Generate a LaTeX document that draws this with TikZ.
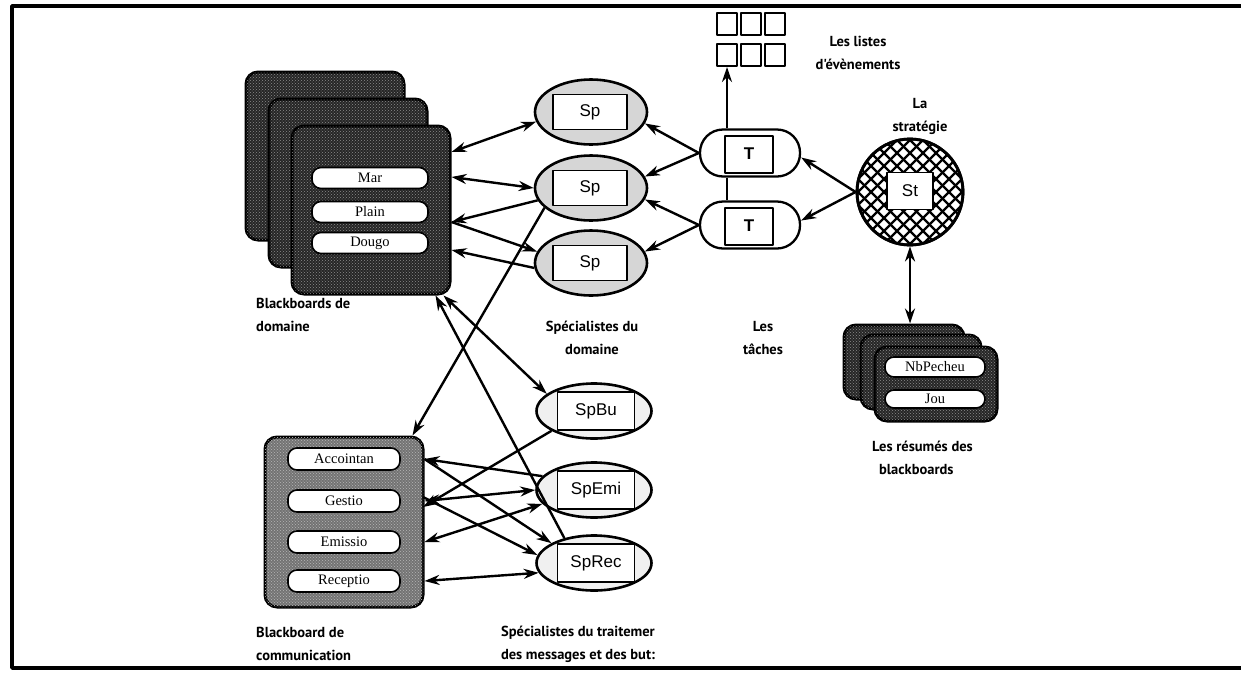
\documentclass[tikz,border=0pt]{standalone}
\usepackage{fontspec}
\setmainfont{Liberation Serif}
\setsansfont{Liberation Sans}
\newfontfamily\labfont{PT Sans}
\usetikzlibrary{shapes.geometric,arrows.meta,patterns}
\tikzset{
  card/.style={draw,line width=3pt,rounded corners=12pt,fill=black!85,inner sep=0pt,
    postaction={pattern=crosshatch dots,pattern color=black!45}},
  slot/.style={draw,line width=1.6pt,fill=white,rounded corners=9pt,inner sep=0pt,
    font=\fontsize{14.5}{16}\selectfont},
  spec/.style={ellipse,draw,line width=2.6pt,fill=black!16,minimum width=112pt,minimum height=65pt},
  specb/.style={spec,fill=black!6,minimum width=115pt,minimum height=55pt},
  spbox/.style={draw,line width=1.5pt,fill=white,minimum width=74pt,minimum height=35pt,
    font=\sffamily\fontsize{17}{19}\selectfont},
  tache/.style={draw,line width=2.3pt,fill=white,rounded corners=23pt,minimum width=100pt,minimum height=47pt},
  tbox/.style={draw,line width=2pt,fill=white,minimum width=48pt,minimum height=37pt,
    font=\sffamily\bfseries\fontsize{17}{19}\selectfont},
  evbox/.style={draw,line width=2pt,minimum width=20pt,minimum height=22pt,inner sep=0pt},
  lab/.style={font=\labfont\bfseries\fontsize{14.5}{23}\selectfont,inner sep=0pt},
  conn/.style={line width=2.4pt}
}
\begin{document}
\begin{tikzpicture}[x=1pt,y=-1pt,>={Stealth[length=15pt,width=10pt]},line join=round]
\useasboundingbox (0,0) rectangle (1241,673);
% cadre
\draw[line width=3.5pt] (1241,6) -- (12,6) -- (12,668) -- (1241,668);

% blackboards de domaine
\node[card,minimum width=158pt,minimum height=168pt] (bbd1) at (325,156) {};
\node[card,minimum width=158pt,minimum height=168pt] (bbd2) at (348,183) {};
\node[card,minimum width=158pt,minimum height=168pt] (bbd3) at (371,210) {};
\foreach \n/\t/\y in {mar/Mar/178,plain/Plain/212,dougo/Dougo/243}
  \node[slot,minimum width=116pt,minimum height=21pt] (\n) at (370,\y) {\t};
\node[lab,anchor=west,align=left] (lbbd) at (256,315) {Blackboards de\\domaine};

% specialistes du domaine
\foreach \i/\y in {1/112,2/188,3/263}{
  \node[spec] (sp\i) at (591,\y) {};
  \node[spbox] (sp\i b) at (590,\y) {Sp};
}
\node[lab,align=center] (lspd) at (592,338) {Spécialistes du\\domaine};

% taches
\node[tache] (t1) at (750,153) {};
\node[tbox] (t1b) at (749,154) {T};
\node[tache] (t2) at (750,225) {};
\node[tbox] (t2b) at (749,226) {T};
\node[lab,align=center] (ltac) at (763,338) {Les\\tâches};

% listes d'evenements
\foreach \r in {0,1}
  \foreach \c in {0,1,2}
    \node[evbox] (ev\r\c) at (727+24*\c,24+31*\r) {};
\node[lab,align=center] (llis) at (858,53) {Les listes\\d'évènements};

% strategie
\node[lab,align=center] (lstr) at (920,116) {La\\stratégie};
\node[circle,draw,line width=2.8pt,minimum size=106pt,fill=white] (st) at (910,192) {};
\begin{scope}
  \clip (st.center) circle (52);
  \foreach \k in {-6,...,6}{
    \draw[line width=2.3pt] (910+13*\k-60,132) -- (910+13*\k+60,252);
    \draw[line width=2.3pt] (910+13*\k+60,132) -- (910+13*\k-60,252);
  }
\end{scope}
\draw[line width=2.8pt] (st.center) circle (53);
\node[spbox,minimum width=46pt,minimum height=37pt] (stb) at (910,191) {St};

% resumes des blackboards
\node[card,minimum width=120pt,minimum height=74pt] (sbb1) at (904,362) {};
\node[card,minimum width=120pt,minimum height=74pt] (sbb2) at (921,372) {};
\node[card,minimum width=122pt,minimum height=74pt] (sbb3) at (936,384) {};
\node[slot,minimum width=100pt,minimum height=20pt] (nbp) at (935,367) {NbPecheu};
\node[slot,minimum width=100pt,minimum height=18pt] (jou) at (935,399) {Jou};
\node[lab,anchor=west,align=left] (lres) at (872,458) {Les résumés des\\\hspace*{7pt}blackboards};

% blackboard de communication
\node[card,fill=black!55,postaction={pattern=crosshatch dots,pattern color=white!70!black},
  minimum width=158pt,minimum height=170pt] (cbb) at (344,522) {};
\foreach \n/\t/\y in {acc/Accointan/459,ges/Gestio/501,emi/Emissio/542,rec/Receptio/581}
  \node[slot,minimum width=112pt,minimum height=22pt] (\n) at (344,\y) {\t};
\node[lab,anchor=west,align=left] (lbbc) at (256,644) {Blackboard de\\communication};

% specialistes des messages
\foreach \n/\t/\y in {spbu/SpBu/411,spemi/SpEmi/490,sprec/SpRec/563}{
  \node[specb] (\n) at (594,\y) {};
  \node[spbox,minimum width=77pt,minimum height=38pt] (\n b) at (596,\y) {\t};
}
\node[lab,align=center] (lspt) at (578,644) {Spécialistes du traitemer\\des messages et des but:};

\coordinate (cg2) at (423,497);
\coordinate (cg3) at (423,507);

% connexions domaine
\draw[conn,<->] ([yshift=58pt]bbd3.east) -- (sp1.190);
\draw[conn,<->] ([yshift=33pt]bbd3.east) -- (sp2.west);
\draw[conn,->] (sp2.193) -- ([yshift=-12pt]bbd3.east);
\draw[conn,->] ([yshift=-12pt]bbd3.east) -- (sp3.168);
\draw[conn,->] (sp3.185) -- ([yshift=-40pt]bbd3.east);
\draw[conn,->] (sp2.203) -- ([xshift=-12pt]cbb.north east);
\draw[conn,<->] ([xshift=-8pt]bbd3.south east) -- (spbu.160);
\draw[conn,->] (sprec.140) -- ([xshift=-16pt]bbd3.south east);

% taches et strategie
\draw[conn,->] (t1.west) -- (sp1.-12);
\draw[conn,->] (t1.west) -- (sp2.12);
\draw[conn,->] (t2.west) -- (sp2.-12);
\draw[conn,->] (t2.west) -- (sp3.12);
\draw[conn,->] (st.west) -- (t1.-5);
\draw[conn,->] (st.west) -- (t2.5);
\draw[conn,->] (t1.north -| ev10) -- (ev10.south);
\draw[conn] (t1.south -| ev10) -- (t2.north -| ev10);
\draw[conn,<->] (st.south) -- (st.south |- sbb1.north);

% connexions communication
\draw[conn,->] (spemi.165) -- (cbb.east |- acc);
\draw[conn,->] (cbb.east |- acc) -- (sprec.155);
\draw[conn,<->] (cbb.east |- ges) -- (spemi.west);
\draw[conn,->] (cg2) -- (sprec.172);
\draw[conn,->] (spbu.205) -- (cg3);
\draw[conn,<->] (cbb.east |- emi) -- (spemi.195);
\draw[conn,<->] (cbb.east |- rec) -- (sprec.190);
\end{tikzpicture}
\end{document}
